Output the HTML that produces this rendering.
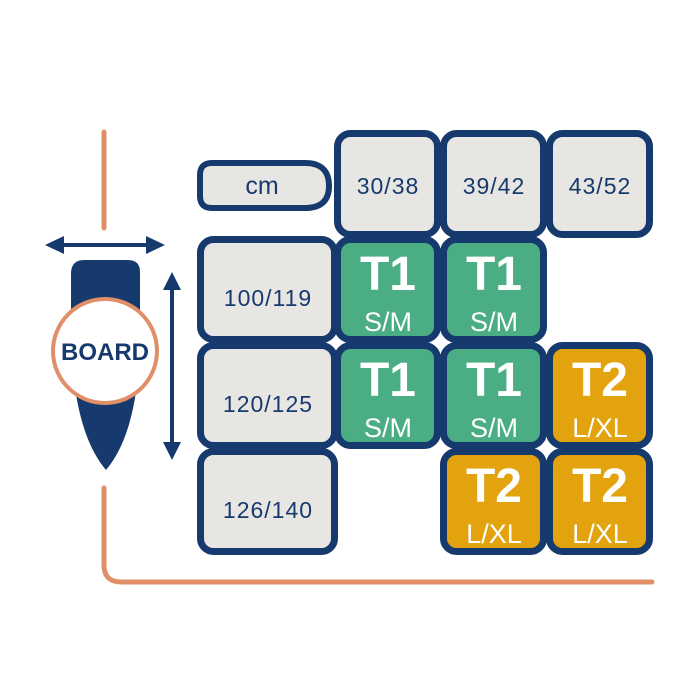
<!DOCTYPE html>
<html><head><meta charset="utf-8"><style>html,body{margin:0;padding:0;background:#fff}svg{display:block}</style></head>
<body>
<svg width="700" height="700" viewBox="0 0 700 700" xmlns="http://www.w3.org/2000/svg" font-family="Liberation Sans, sans-serif">
<g fill="none" stroke="#e08f68" stroke-width="5" stroke-linecap="round">
<line x1="104" y1="132" x2="104" y2="228"/>
<path d="M104 488 V565 Q104 582 121 582 H652"/>
</g>
<g stroke="#173a6e" stroke-width="4" fill="#173a6e">
<line x1="56" y1="245" x2="154" y2="245"/>
<line x1="172" y1="285" x2="172" y2="447"/>
</g>
<g fill="#173a6e">
<polygon points="45,245 64,236 64,254"/>
<polygon points="165,245 146,236 146,254"/>
<polygon points="172,272 163,290 181,290"/>
<polygon points="172,460 163,442 181,442"/>
<path d="M84 260 H128 Q140 260 140 272 V330 Q140 430 106 470 Q72 430 71 330 V272 Q72 260 84 260 Z"/>
</g>
<circle cx="105" cy="351" r="52" fill="#fff" stroke="#e08f68" stroke-width="4"/>
<text x="105" y="360" text-anchor="middle" font-size="24" font-weight="bold" fill="#173a6e">BOARD</text>
<path d="M212 163 H305 Q329 163 329 186 Q329 208 305 208 H212 Q200 208 200 196 V175 Q200 163 212 163 Z" fill="#e8e6e2" stroke="#173a6e" stroke-width="6"/>
<text x="262" y="194" text-anchor="middle" font-size="25" fill="#173a6e">cm</text>
<g stroke="#173a6e" stroke-width="7">
<rect x="337.5" y="133.5" width="100" height="101" rx="13" fill="#e8e6e2"/>
<rect x="443.5" y="133.5" width="100" height="101" rx="13" fill="#e8e6e2"/>
<rect x="549.5" y="133.5" width="100" height="101" rx="13" fill="#e8e6e2"/>
<rect x="200.5" y="239.5" width="134" height="100" rx="13" fill="#e8e6e2"/>
<rect x="200.5" y="345.5" width="134" height="100" rx="13" fill="#e8e6e2"/>
<rect x="200.5" y="451.5" width="134" height="100" rx="13" fill="#e8e6e2"/>
<rect x="337.5" y="239.5" width="100" height="100" rx="13" fill="#4aad84"/>
<rect x="443.5" y="239.5" width="100" height="100" rx="13" fill="#4aad84"/>
<rect x="337.5" y="345.5" width="100" height="100" rx="13" fill="#4aad84"/>
<rect x="443.5" y="345.5" width="100" height="100" rx="13" fill="#4aad84"/>
<rect x="549.5" y="345.5" width="100" height="100" rx="13" fill="#e3a30f"/>
<rect x="443.5" y="451.5" width="100" height="100" rx="13" fill="#e3a30f"/>
<rect x="549.5" y="451.5" width="100" height="100" rx="13" fill="#e3a30f"/>
</g>
<g font-size="23" fill="#173a6e" text-anchor="middle" letter-spacing="1">
<text x="388" y="194">30/38</text>
<text x="494" y="194">39/42</text>
<text x="600" y="194">43/52</text>
<text x="268" y="306">100/119</text>
<text x="268" y="412">120/125</text>
<text x="268" y="518">126/140</text>
</g>
<g fill="#fff" text-anchor="middle">
<g font-size="48" font-weight="bold">
<text x="388" y="290">T1</text><text x="494" y="290">T1</text>
<text x="388" y="396">T1</text><text x="494" y="396">T1</text>
<text x="600" y="396">T2</text>
<text x="494" y="502">T2</text><text x="600" y="502">T2</text>
</g>
<g font-size="27">
<text x="388" y="331">S/M</text><text x="494" y="331">S/M</text>
<text x="388" y="437">S/M</text><text x="494" y="437">S/M</text>
<text x="600" y="437">L/XL</text>
<text x="494" y="543">L/XL</text><text x="600" y="543">L/XL</text>
</g>
</g>
</svg>
</body></html>
